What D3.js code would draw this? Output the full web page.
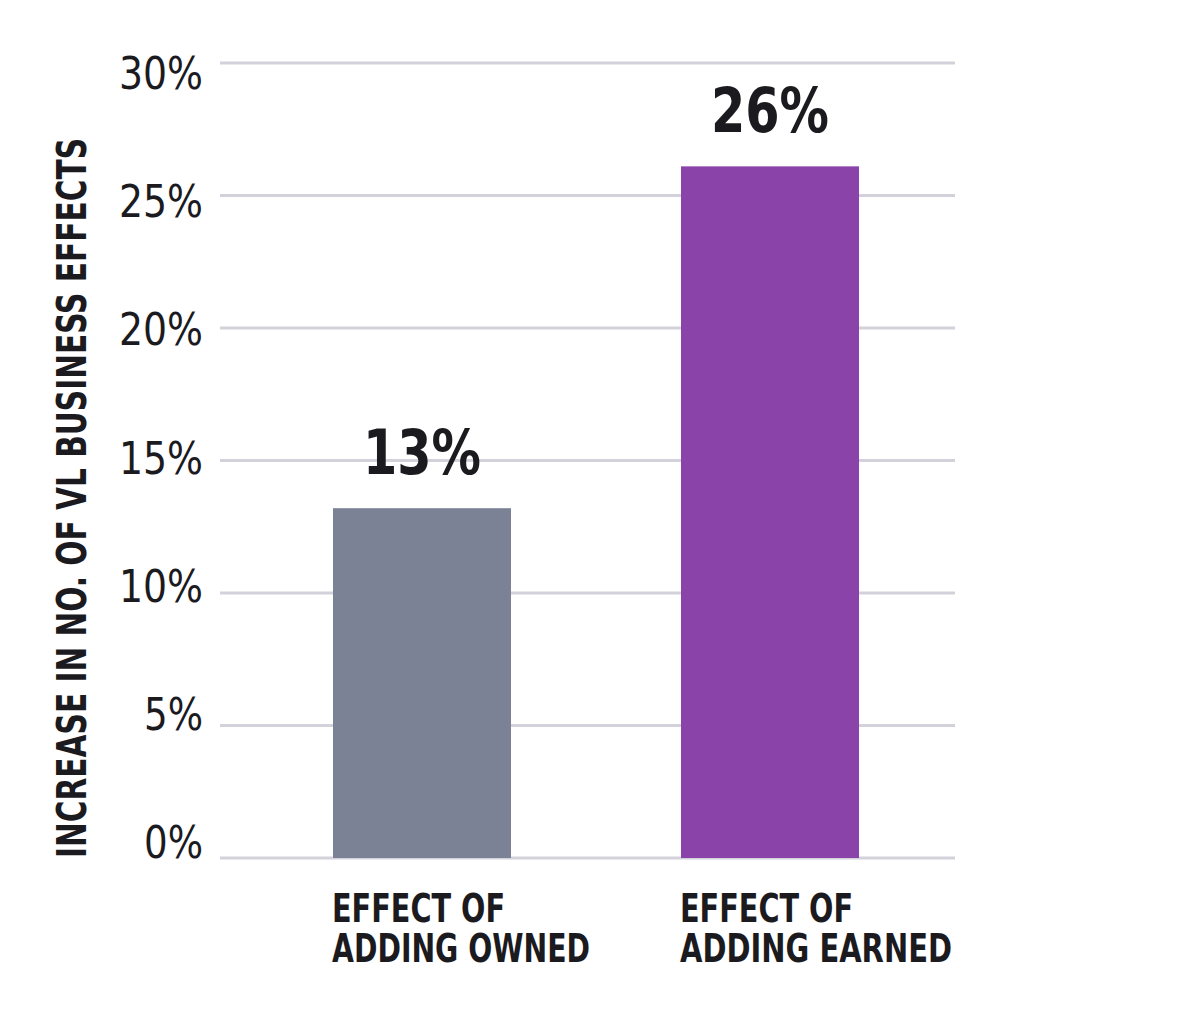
<!DOCTYPE html>
<html>
<head>
<meta charset="utf-8">
<script src="https://cdn.jsdelivr.net/npm/d3@7"></script>
<style>
  body { margin: 0; background: #fff; }
  text { font-family: "Liberation Sans Narrow", "DejaVu Sans Condensed", "DejaVu Sans", sans-serif; fill: #1b1a1f; }
</style>
</head>
<body>
<div class="chart"></div>
<script>
const categories = ['Effect of adding owned', 'Effect of adding earned'];
const catLines = [['EFFECT OF', 'ADDING OWNED'], ['EFFECT OF', 'ADDING EARNED']];
const catWidths = [[173, 258], [173, 272]];
const values = [13.2, 26.1];
const valueLabels = ['13%', '26%'];
const barColors = ['#7c8295', '#8a44a9'];
const yTicks = [0, 5, 10, 15, 20, 25, 30];
const yTitle = 'INCREASE IN NO. OF VL BUSINESS EFFECTS';

const W = 1200, H = 1016;
const margin = { top: 63, right: 245, bottom: 158, left: 220 };
const width = W - margin.left - margin.right;
const height = H - margin.top - margin.bottom;

const svg = d3.select('.chart').append('svg')
    .attr('width', W)
    .attr('height', H);

const g = svg.append('g')
    .attr('transform', `translate(${margin.left},${margin.top})`);

const y = d3.scaleLinear().domain([0, 30]).range([height, 0]);
// the tick labels sit on a slightly tighter scale than the grid
const yLab = d3.scaleLinear().domain([0, 30]).range([858 - margin.top, 89 - margin.top]);

const bw = 178;
const x = d3.scaleOrdinal().domain(categories).range([113, 461]);

// grid
g.append('g').selectAll('line')
    .data(yTicks)
    .enter()
    .append('line')
    .attr('x1', 0)
    .attr('x2', width)
    .attr('y1', d => y(d))
    .attr('y2', d => y(d))
    .attr('stroke', '#d3d2da')
    .attr('stroke-width', 3);

// tick labels
g.append('g').selectAll('text')
    .data(yTicks)
    .enter()
    .append('text')
    .attr('x', -17)
    .attr('y', d => yLab(d))
    .attr('text-anchor', 'end')
    .attr('font-size', 44)
    .attr('textLength', d => d < 10 ? 59 : 84)
    .attr('lengthAdjust', 'spacingAndGlyphs')
    .text(d => d + '%');

// bars
g.append('g').selectAll('rect')
    .data(values)
    .enter()
    .append('rect')
    .attr('x', (d, i) => x(categories[i]))
    .attr('width', bw)
    .attr('y', d => y(d))
    .attr('height', d => height - y(d))
    .attr('fill', (d, i) => barColors[i]);

// value labels
g.append('g').selectAll('text')
    .data(values)
    .enter()
    .append('text')
    .attr('x', (d, i) => x(categories[i]) + bw / 2)
    .attr('y', d => y(d) - 34)
    .attr('text-anchor', 'middle')
    .attr('font-size', 63)
    .attr('font-weight', 'bold')
    .attr('textLength', 118)
    .attr('lengthAdjust', 'spacingAndGlyphs')
    .text((d, i) => valueLabels[i]);

// category labels, two lines in one text
const cat = g.append('g').selectAll('text')
    .data(categories)
    .enter()
    .append('text')
    .attr('y', 922 - margin.top)
    .attr('font-size', 39)
    .attr('font-weight', 'bold');

cat.selectAll('tspan')
    .data((d, i) => catLines[i].map((t, j) => ({ t, w: catWidths[i][j], x0: x(d) - 1 })))
    .enter()
    .append('tspan')
    .attr('x', d => d.x0)
    .attr('dy', (d, j) => j === 0 ? 0 : 40)
    .attr('textLength', d => d.w)
    .attr('lengthAdjust', 'spacingAndGlyphs')
    .text(d => d.t);

// y title
svg.append('text')
    .attr('transform', 'translate(86, 858) rotate(-90)')
    .attr('x', 0)
    .attr('y', 0)
    .attr('font-size', 41)
    .attr('font-weight', 'bold')
    .attr('textLength', 720)
    .attr('lengthAdjust', 'spacingAndGlyphs')
    .text(yTitle);
</script>
</body>
</html>
